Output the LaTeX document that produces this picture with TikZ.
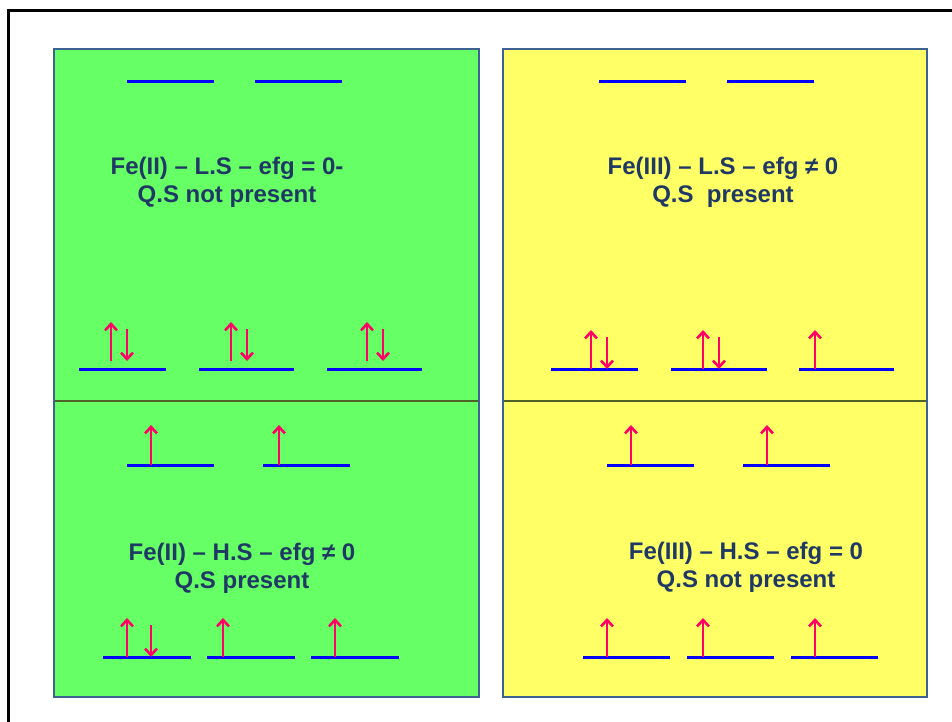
\documentclass[tikz,border=0pt]{standalone}
\usepackage{fontspec}
\setmainfont{Liberation Sans}
\usetikzlibrary{arrows.meta}
\definecolor{gfill}{HTML}{66FF66}
\definecolor{yfill}{HTML}{FFFF66}
\definecolor{pborder}{HTML}{3D6393}
\definecolor{divline}{HTML}{4F6228}
\definecolor{txt}{HTML}{1F3864}
\definecolor{spin}{HTML}{FF0066}
\definecolor{lvl}{HTML}{0000FF}
\tikzset{
  panel/.style={draw=pborder,line width=2.5pt},
  level/.style={draw=lvl,line width=3pt},
  spinup/.style={draw=spin,line width=2.6pt,-{Straight Barb[length=6.5pt,width=12pt,line width=2.6pt]}},
  label/.style={text=txt,align=center,font=\fontsize{24}{28}\selectfont\bfseries,inner sep=0pt},
}
\begin{document}
\begin{tikzpicture}[x=1pt,y=-1pt]
\useasboundingbox (0,0) rectangle (952,721);
\fill[white] (0,0) rectangle (952,721);
\begin{scope}
\clip (0,0) rectangle (952,721);
\draw[black,line width=2.5pt] (8.5,10.5) rectangle (970,740);
\end{scope}
% panels
\fill[gfill] (54,49) rectangle (479,697);
\fill[yfill] (503,49) rectangle (927,697);
\draw[divline,line width=2.8pt] (54,401) -- (479,401);
\draw[divline,line width=2.8pt] (503,401) -- (927,401);
\draw[panel] (54,49) rectangle (479,697);
\draw[panel] (503,49) rectangle (927,697);
% ---- top-left
\draw[level] (127,81) -- (214,81);
\draw[level] (255,81) -- (342,81);
\draw[level] (79,369) -- (166,369);
\draw[level] (199,369) -- (294,369);
\draw[level] (327,369) -- (422,369);
\draw[spinup] (111,361) -- (111,322);
\draw[spinup] (127,329) -- (127,361);
\draw[spinup] (231,361) -- (231,322);
\draw[spinup] (247,329) -- (247,361);
\draw[spinup] (367,361) -- (367,322);
\draw[spinup] (383,329) -- (383,361);
\node[label] (tl) at (227,182) {Fe(II) – L.S – efg = 0-\\Q.S not present};
% ---- top-right
\draw[level] (599,81) -- (686,81);
\draw[level] (727,81) -- (814,81);
\draw[level] (551,369) -- (638,369);
\draw[level] (671,369) -- (767,369);
\draw[level] (799,369) -- (894,369);
\draw[spinup] (591,369) -- (591,330);
\draw[spinup] (607,337) -- (607,369);
\draw[spinup] (703,369) -- (703,330);
\draw[spinup] (719,337) -- (719,369);
\draw[spinup] (815,369) -- (815,330);
\node[label] (tr) at (723,182) {Fe(III) – L.S – efg ≠ 0\\Q.S\ \ present};
% ---- bottom-left
\draw[level] (127,465) -- (214,465);
\draw[level] (263,465) -- (350,465);
\draw[spinup] (151,465) -- (151,425);
\draw[spinup] (279,465) -- (279,425);
\draw[level] (103,657) -- (191,657);
\draw[level] (207,657) -- (295,657);
\draw[level] (311,657) -- (399,657);
\draw[spinup] (127,657) -- (127,618);
\draw[spinup] (151,625) -- (151,657);
\draw[spinup] (223,657) -- (223,618);
\draw[spinup] (335,657) -- (335,618);
\node[label] (bl) at (242,568) {Fe(II) – H.S – efg ≠ 0\\Q.S present};
% ---- bottom-right
\draw[level] (607,465) -- (694,465);
\draw[level] (743,465) -- (830,465);
\draw[spinup] (631,465) -- (631,425);
\draw[spinup] (767,465) -- (767,425);
\draw[level] (583,657) -- (670,657);
\draw[level] (687,657) -- (774,657);
\draw[level] (791,657) -- (878,657);
\draw[spinup] (607,657) -- (607,618);
\draw[spinup] (703,657) -- (703,618);
\draw[spinup] (815,657) -- (815,618);
\node[label] (br) at (746,567) {Fe(III) – H.S – efg = 0\\Q.S not present};
\end{tikzpicture}
\end{document}
